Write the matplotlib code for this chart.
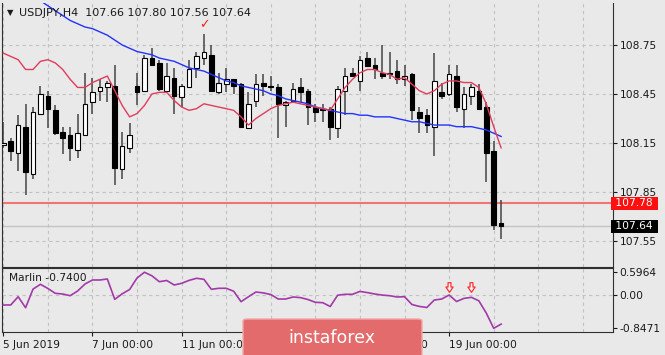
import numpy as np
import matplotlib
matplotlib.use("Agg")
import matplotlib.pyplot as plt
from matplotlib.patches import FancyBboxPatch
from matplotlib.path import Path

# USDJPY H4 candles, 5 Jun 00:00 .. 20 Jun 04:00 (one bar per index)
opens = [108.14, 108.16, 108.09, 108.25, 107.96, 108.33, 108.44, 108.35, 108.22, 108.20,
         108.11, 108.20, 108.40, 108.47, 108.49, 108.50, 107.99, 108.12, 108.50, 108.47,
         108.67, 108.64, 108.47, 108.55, 108.43, 108.49, 108.61, 108.67, 108.69, 108.46,
         108.51, 108.54, 108.51, 108.24, 108.41, 108.52, 108.50, 108.49, 108.38, 108.41,
         108.49, 108.47, 108.37, 108.36, 108.36, 108.24, 108.47, 108.58, 108.53, 108.67,
         108.63, 108.58, 108.58, 108.59, 108.54, 108.57, 108.34, 108.32, 108.25, 108.46,
         108.45, 108.56, 108.36, 108.44, 108.47, 108.37, 108.10, 107.66]
highs = [108.28, 108.18, 108.32, 108.39, 108.37, 108.50, 108.47, 108.38, 108.25, 108.25,
         108.33, 108.58, 108.55, 108.54, 108.53, 108.63, 108.22, 108.27, 108.58, 108.69,
         108.73, 108.66, 108.64, 108.61, 108.51, 108.66, 108.71, 108.82, 108.75, 108.58,
         108.61, 108.54, 108.52, 108.46, 108.57, 108.57, 108.56, 108.51, 108.41, 108.52,
         108.55, 108.48, 108.39, 108.39, 108.37, 108.50, 108.61, 108.61, 108.68, 108.71,
         108.67, 108.75, 108.71, 108.66, 108.63, 108.58, 108.37, 108.36, 108.70, 108.52,
         108.63, 108.63, 108.49, 108.51, 108.51, 108.40, 108.16, 107.80]
lows = [108.12, 108.04, 107.98, 107.83, 107.93, 108.32, 108.24, 108.20, 108.08, 108.04,
        108.06, 108.19, 108.33, 108.41, 108.40, 107.89, 107.93, 108.09, 108.38, 108.46,
        108.63, 108.47, 108.47, 108.33, 108.37, 108.49, 108.55, 108.63, 108.46, 108.45,
        108.46, 108.45, 108.24, 108.24, 108.37, 108.44, 108.47, 108.18, 108.25, 108.40,
        108.40, 108.26, 108.28, 108.28, 108.17, 108.18, 108.32, 108.56, 108.47, 108.62,
        108.54, 108.54, 108.54, 108.51, 108.50, 108.29, 108.21, 108.21, 108.07, 108.42,
        108.44, 108.34, 108.24, 108.38, 108.35, 107.91, 107.62, 107.56]
closes = [108.15, 108.10, 108.26, 107.97, 108.34, 108.45, 108.36, 108.21, 108.18, 108.12,
          108.21, 108.39, 108.46, 108.49, 108.52, 108.00, 108.13, 108.20, 108.46, 108.67,
          108.63, 108.48, 108.56, 108.44, 108.50, 108.60, 108.68, 108.71, 108.47, 108.52,
          108.54, 108.50, 108.25, 108.39, 108.51, 108.50, 108.49, 108.39, 108.40, 108.48,
          108.46, 108.37, 108.34, 108.35, 108.25, 108.48, 108.56, 108.56, 108.66, 108.62,
          108.60, 108.56, 108.57, 108.54, 108.56, 108.35, 108.30, 108.26, 108.53, 108.44,
          108.57, 108.37, 108.45, 108.49, 108.36, 108.09, 107.65, 107.64]

# fast MA (red) and slow MA (blue)
ma_fast = [108.70, 108.68, 108.66, 108.60, 108.60, 108.65, 108.66, 108.64, 108.60, 108.54,
           108.49, 108.49, 108.52, 108.54, 108.56, 108.47, 108.38, 108.31, 108.33, 108.38,
           108.45, 108.46, 108.46, 108.41, 108.37, 108.35, 108.36, 108.39, 108.38, 108.37,
           108.36, 108.35, 108.31, 108.26, 108.30, 108.33, 108.36, 108.38, 108.39, 108.40,
           108.39, 108.38, 108.37, 108.36, 108.35, 108.42, 108.49, 108.54, 108.58, 108.60,
           108.60, 108.58, 108.57, 108.54, 108.55, 108.51, 108.47, 108.45, 108.47, 108.51,
           108.53, 108.53, 108.52, 108.52, 108.49, 108.39, 108.25, 108.12]
ma_slow = [np.nan, np.nan, np.nan, np.nan, 109.06, 109.02, 108.99, 108.96, 108.93, 108.90,
           108.88, 108.86, 108.85, 108.83, 108.81, 108.78, 108.75, 108.73, 108.71, 108.70,
           108.69, 108.67, 108.66, 108.65, 108.63, 108.61, 108.60, 108.59, 108.57, 108.55,
           108.53, 108.52, 108.50, 108.49, 108.48, 108.47, 108.45, 108.44, 108.42, 108.41,
           108.40, 108.39, 108.37, 108.36, 108.35, 108.34, 108.33, 108.33, 108.32, 108.32,
           108.31, 108.31, 108.31, 108.30, 108.29, 108.28, 108.28, 108.27, 108.26, 108.26,
           108.26, 108.25, 108.25, 108.25, 108.24, 108.23, 108.21, 108.19]

marlin = [-0.247, -0.247, -0.034, -0.317, 0.162, 0.286, 0.178, 0.054, 0.036, -0.008,
          0.113, 0.294, 0.397, 0.397, 0.423, -0.101, 0.041, 0.152, 0.449, 0.5964,
          0.505, 0.353, 0.384, 0.268, 0.312, 0.387, 0.441, 0.415, 0.157, 0.183,
          0.183, 0.108, -0.162, -0.034, 0.088, 0.064, 0.023, -0.093, -0.093, -0.041,
          -0.057, -0.106, -0.178, -0.188, -0.286, 0.005, 0.028, 0.028, 0.103, 0.072,
          0.036, 0.008, -0.008, -0.041, -0.034, -0.235, -0.284, -0.312, -0.119, -0.093,
          0.010, -0.157, -0.077, -0.049, -0.139, -0.454, -0.8471, -0.740]

price_ticks = [108.75, 108.45, 108.15, 107.85, 107.55]
marlin_ticks = [0.5964, 0.0, -0.8471]
marlin_tick_labels = ["0.5964", "0.00", "-0.8471"]
date_bars = [0, 12, 24, 36, 48, 60]
date_labels = ["5 Jun 2019", "7 Jun 00:00", "11 Jun 00:00", "13 Jun 00:00",
               "17 Jun 00:00", "19 Jun 00:00"]
level_line = 107.78
arrow_bars = [60, 63]
arrow_level = 0.22
check_bar = 27

BG = "#e9e9e9"
GRID = "#c2c2c2"
TXT = "#1a1a1a"

plt.rcParams["font.family"] = ["DejaVu Sans"]

fig = plt.figure(figsize=(6.65, 3.55), dpi=100, facecolor=BG)
ax = fig.add_axes([2 / 665, 1 - 266.5 / 355, 610.5 / 665, 263.5 / 355], facecolor=BG)
ax2 = fig.add_axes([2 / 665, 1 - 332 / 355, 610.5 / 665, 64 / 355], facecolor=BG)

x = np.arange(len(opens))
o, h, l, c = (np.array(v) for v in (opens, highs, lows, closes))
up = c >= o
xmin, xmax = -0.175, 81.99

# candles
ax.vlines(x, l, h, color="#454545", lw=1.1, zorder=2)
body_lo = np.minimum(o, c)
body_h = np.maximum(np.abs(c - o), 0.003)
ax.bar(x, body_h, bottom=body_lo, width=0.62,
       color=np.where(up, "white", "black"), edgecolor="black", lw=0.8, zorder=3)

ax.plot(x, ma_slow, color="#2233ff", lw=1.0, zorder=4)
ax.plot(x, ma_fast, color="#e03c5c", lw=1.0, zorder=4)

ax.axhline(level_line, color="#f07474", lw=1.5, zorder=1)
ax.axhline(closes[-1], color="#c4c4c4", lw=1.0, zorder=1)

ax.text(check_bar, highs[check_bar] + 0.015, "\u2713", color="#ee2222",
        fontsize=9, ha="center", va="bottom", zorder=5)

ax.set_xlim(xmin, xmax)
ax.set_ylim(107.394, 109.007)
ax.set_yticks(price_ticks)
ax.set_yticklabels([f"{t:.2f}" for t in price_ticks])
ax.set_xticks(np.arange(0, 82, 6))
ax.tick_params(axis="x", bottom=False, labelbottom=False)
ax.tick_params(axis="y", left=False, labelleft=False, right=True, labelright=True,
               direction="out", length=3, pad=2, labelsize=7.7, colors=TXT)
ax.grid(True, color=GRID, lw=0.8, linestyle=(0, (3, 3)))
for s in ["left", "right", "bottom"]:
    ax.spines[s].set_color("#303030")
ax.spines["top"].set_visible(False)

# price labels on the scale
tr = ax.get_yaxis_transform()
ax.text(1.0, level_line, " 107.78 ", transform=tr, color="white", fontsize=7.7,
        ha="left", va="center", bbox=dict(boxstyle="square,pad=0.12", fc="#ff1010", ec="none"),
        clip_on=False, zorder=6)
ax.text(1.0, closes[-1], " 107.64 ", transform=tr, color="white", fontsize=7.7,
        ha="left", va="center", bbox=dict(boxstyle="square,pad=0.12", fc="black", ec="none"),
        clip_on=False, zorder=6)

# Marlin panel
ax2.plot(x, marlin, color="#a23aa8", lw=1.2, zorder=3)
arrow = Path([(-0.3, 1), (0.3, 1), (0.3, 0.1), (0.75, 0.1), (0, -1), (-0.75, 0.1),
              (-0.3, 0.1), (-0.3, 1)], closed=True)
ax2.scatter(arrow_bars, [arrow_level] * len(arrow_bars), marker=arrow, s=48,
            facecolor="#fff4f4", edgecolor="#ff3030", lw=0.9, zorder=4)
ax2.text(0.012, 0.84, f"Marlin {marlin[-1]:.4f}", transform=ax2.transAxes,
         fontsize=7.7, color=TXT, va="center", ha="left")

ax2.set_xlim(xmin, xmax)
ax2.set_ylim(-0.943, 0.706)
ax2.set_yticks(marlin_ticks)
ax2.set_yticklabels(marlin_tick_labels)
ax2.set_xticks(date_bars)
ax2.set_xticklabels(date_labels)
ax2.set_xticks(np.arange(0, 82, 6), minor=True)
for lab in ax2.get_xticklabels():
    lab.set_horizontalalignment("left")
ax2.tick_params(axis="x", which="major", direction="out", length=3, pad=3,
                labelsize=7.7, colors=TXT)
ax2.tick_params(axis="x", which="minor", length=0)
ax2.tick_params(axis="y", left=False, labelleft=False, right=True, labelright=True,
                direction="out", length=3, pad=2, labelsize=7.7, colors=TXT)
ax2.grid(True, which="both", axis="x", color=GRID, lw=0.8, linestyle=(0, (3, 3)))
ax2.axhline(0, color=GRID, lw=0.8, linestyle=(0, (3, 3)), zorder=1)
for s in ax2.spines.values():
    s.set_color("#303030")

# title
fig.text(7 / 665, 1 - 12.5 / 355, "\u25bc", fontsize=6, color=TXT, va="center")
fig.text(19 / 665, 1 - 12.5 / 355, "USDJPY,H4  107.66 107.80 107.56 107.64",
         fontsize=8, color=TXT, va="center", ha="left")

# watermark (covers part of the date scale, as in the source)
fig.patches.append(FancyBboxPatch((243 / 665, -0.02), 179 / 665, 36 / 355 + 0.02,
                                  boxstyle="round,pad=0,rounding_size=0.006",
                                  transform=fig.transFigure, fc="#e36b6b",
                                  ec="#f2a7a7", lw=1.0, zorder=10))
fig.text(332 / 665, 1 - 338 / 355, "instaforex", fontsize=12.5, color="white",
         ha="center", va="center", zorder=11)

fig.savefig("out.png", dpi=100, facecolor=BG)
